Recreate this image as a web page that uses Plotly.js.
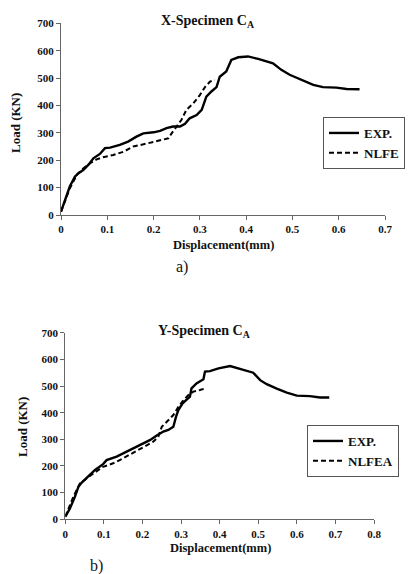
<!DOCTYPE html>
<html>
<head>
<meta charset="utf-8">
<script src="https://cdn.plot.ly/plotly-3.0.1.min.js"></script>
<style>html,body{margin:0;padding:0;background:#fff;}#chart{width:415px;height:574px;}</style>
</head>
<body>
<div id="chart"></div>
<script>
// Top chart (X-Specimen)
const xExpX = [0,0.009,0.019,0.030,0.037,0.048,0.059,0.070,0.084,0.095,0.106,0.127,0.145,0.163,0.178,0.200,0.214,0.228,0.242,0.257,0.268,0.278,0.293,0.304,0.314,0.325,0.336,0.343,0.357,0.368,0.383,0.404,0.426,0.458,0.476,0.494,0.523,0.545,0.566,0.595,0.617,0.645];
const yExpX = [12,55,104,140,152,164,183,207,223,244,246,256,268,286,298,302,307,317,323,323,333,353,365,384,432,451,467,505,524,566,576,579,570,554,530,512,490,475,467,465,460,459];
const xNlfeX = [0,0.019,0.034,0.048,0.063,0.077,0.091,0.113,0.135,0.156,0.178,0.200,0.221,0.232,0.239,0.250,0.260,0.271,0.286,0.300,0.311,0.322,0.332];
const yNlfeX = [12,97,146,170,189,203,211,219,231,250,258,268,276,280,298,323,347,384,408,438,467,487,493];
// Bottom chart (Y-Specimen)
const xExpY = [0,0.012,0.025,0.034,0.042,0.060,0.077,0.098,0.107,0.133,0.159,0.185,0.202,0.219,0.237,0.254,0.267,0.280,0.287,0.293,0.304,0.314,0.323,0.327,0.340,0.358,0.362,0.375,0.397,0.427,0.453,0.487,0.505,0.522,0.548,0.574,0.600,0.634,0.660,0.684];
const yExpY = [10,41,85,122,137,160,185,207,222,235,254,272,285,297,314,329,335,347,385,410,435,447,460,491,510,525,554,556,566,575,565,550,522,507,490,475,464,462,457,457];
const xNlfeaY = [0,0.021,0.038,0.055,0.073,0.098,0.124,0.150,0.176,0.202,0.228,0.241,0.250,0.263,0.280,0.293,0.306,0.319,0.332,0.349,0.362];
const yNlfeaY = [10,85,135,154,172,197,210,229,250,270,291,310,347,366,391,422,447,466,479,485,491];
const xTicksTop = [0,0.1,0.2,0.3,0.4,0.5,0.6,0.7];
const xTicksBot = [0,0.1,0.2,0.3,0.4,0.5,0.6,0.7,0.8];
const yTicks = [0,100,200,300,400,500,600,700];

const serif = "'Liberation Serif', 'Times New Roman', serif";
const tickFont = {family: serif, size: 11, color: '#111', weight: 'bold'};
const dash = '5px,3px';

const traces = [
  {x: xExpX, y: yExpX, mode: 'lines', name: 'EXP.', line: {color: '#000', width: 2.4}, xaxis: 'x', yaxis: 'y', legend: 'legend'},
  {x: xNlfeX, y: yNlfeX, mode: 'lines', name: 'NLFE', line: {color: '#000', width: 2, dash: dash}, xaxis: 'x', yaxis: 'y', legend: 'legend'},
  {x: xExpY, y: yExpY, mode: 'lines', name: 'EXP.', line: {color: '#000', width: 2.4}, xaxis: 'x2', yaxis: 'y2', legend: 'legend2'},
  {x: xNlfeaY, y: yNlfeaY, mode: 'lines', name: 'NLFEA', line: {color: '#000', width: 2, dash: dash}, xaxis: 'x2', yaxis: 'y2', legend: 'legend2'}
];

const axisCommon = {
  showgrid: false, zeroline: false, showline: true, linecolor: '#666', linewidth: 1,
  ticks: 'outside', ticklen: 4, tickcolor: '#666', tickfont: tickFont
};

const W = 415, H = 574;
const legFont = {family: serif, size: 13, color: '#111', weight: 'bold'};
function ann(text, px, py, size, extra) {
  return Object.assign({text: text, x: px/W, y: 1-py/H, xref: 'paper', yref: 'paper', xanchor: 'center', yanchor: 'middle',
    showarrow: false, font: {family: serif, size: size, color: '#111', weight: 'bold'}}, extra || {});
}
const layout = {
  width: W, height: H,
  margin: {l: 0, r: 0, t: 0, b: 0},
  paper_bgcolor: '#fff', plot_bgcolor: '#fff',
  font: {family: serif, color: '#111'},
  xaxis: Object.assign({}, axisCommon, {domain: [61/W, 385/W], range: [0, 0.7], tickvals: xTicksTop, ticktext: xTicksTop.map(String), anchor: 'y'}),
  yaxis: Object.assign({}, axisCommon, {domain: [1-215/H, 1-23.3/H], range: [0, 700], tickvals: yTicks, anchor: 'x'}),
  xaxis2: Object.assign({}, axisCommon, {domain: [65.3/W, 374/W], range: [0, 0.8], tickvals: xTicksBot, ticktext: xTicksBot.map(String), anchor: 'y2'}),
  yaxis2: Object.assign({}, axisCommon, {domain: [1-519.3/H, 1-332.7/H], range: [0, 700], tickvals: yTicks, anchor: 'x2'}),
  legend: {x: 323/W, y: 1-117/H, xanchor: 'left', yanchor: 'top', bordercolor: '#555', borderwidth: 1, bgcolor: '#fff',
    font: legFont, tracegroupgap: 0, itemwidth: 30},
  legend2: {x: 307/W, y: 1-425/H, xanchor: 'left', yanchor: 'top', bordercolor: '#555', borderwidth: 1, bgcolor: '#fff',
    font: legFont, tracegroupgap: 0, itemwidth: 30},
  annotations: [
    ann('X-Specimen C<sub>A</sub>', 207, 21, 14),
    ann('Y-Specimen C<sub>A</sub>', 204, 331, 14),
    ann('Displacement(mm)', 223, 245, 12.5),
    ann('Displacement(mm)', 220, 548, 12.5),
    ann('Load (KN)', 15, 123, 13, {textangle: -90}),
    ann('Load (KN)', 22, 427, 13, {textangle: -90}),
    {text: 'a)', x: 182/W, y: 1-267/H, xref: 'paper', yref: 'paper', xanchor: 'center', yanchor: 'middle', showarrow: false, font: {family: serif, size: 16, color: '#111'}},
    {text: 'b)', x: 96/W, y: 1-566/H, xref: 'paper', yref: 'paper', xanchor: 'center', yanchor: 'middle', showarrow: false, font: {family: serif, size: 16, color: '#111'}}
  ]
};

Plotly.newPlot('chart', traces, layout, {displayModeBar: false, staticPlot: true});
</script>
</body>
</html>
